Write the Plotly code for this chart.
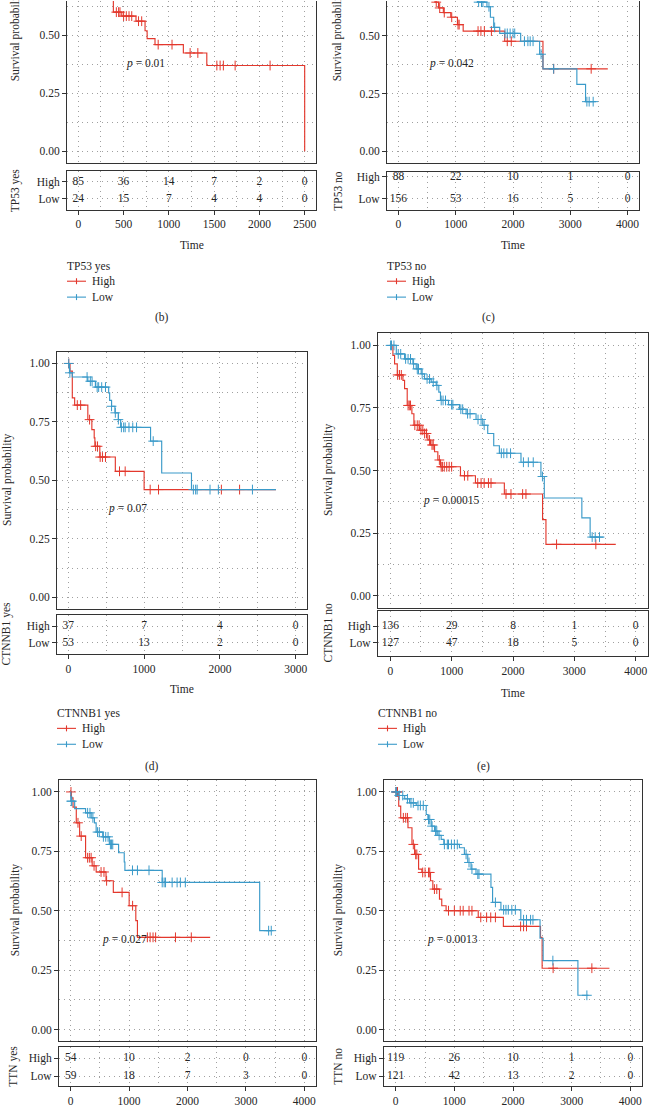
import plotly.graph_objects as go

W, H = 650, 1107
RED = "#E3382D"
BLUE = "#3A9AC9"
FONT = "Liberation Serif"
INK = "#262626"
GRID = "#A0A0A0"
DOT = "1px,4px"
FS = 11.5

# ---------------- data ----------------
# (b) TP53 yes
b_high_t = [0, 40, 95, 150, 210, 265, 320, 360, 387, 480, 637, 737, 760, 847, 1160, 1419, 2500]
b_high_s = [1, 0.96, 0.92, 0.88, 0.83, 0.78, 0.73, 0.68, 0.60, 0.583, 0.561, 0.52, 0.486, 0.46, 0.424, 0.37, 0.0]
b_high_c = [420, 445, 460, 500, 530, 560, 590, 665, 700, 882, 1035, 1235, 1320, 1530, 1566, 1602, 1732, 2118]
b_low_t = [0, 120, 300, 520, 900, 1300, 2450]
b_low_s = [1, 0.958, 0.913, 0.864, 0.81, 0.75, 0.75]
b_low_c = [200, 450, 700, 1100, 1600, 2000, 2450]
b_times = [0, 500, 1000, 1500, 2000, 2500]
b_risk_high = [85, 36, 14, 7, 2, 0]
b_risk_low = [24, 15, 7, 4, 4, 0]

# (c) TP53 no
c_high_t = [0, 50, 110, 180, 260, 340, 420, 500, 580, 638, 700, 784, 914, 1030, 1130, 1855, 2523, 3655]
c_high_s = [1, 0.97, 0.94, 0.9, 0.86, 0.82, 0.78, 0.74, 0.69, 0.645, 0.62, 0.60, 0.58, 0.548, 0.52, 0.476, 0.357, 0.357]
c_high_c = [660, 720, 800, 930, 1040, 1060, 1390, 1440, 1500, 1623, 1900, 1970, 2710, 3365]
c_low_t = [0, 100, 250, 400, 600, 800, 1000, 1200, 1380, 1545, 1605, 1663, 1768, 2134, 2465, 2523, 3115, 3267, 3450]
c_low_s = [1, 0.98, 0.95, 0.92, 0.88, 0.84, 0.79, 0.74, 0.645, 0.625, 0.58, 0.536, 0.51, 0.476, 0.42, 0.357, 0.29, 0.215, 0.215]
c_low_c = [1400, 1450, 1475, 1580, 1680, 1860, 1900, 1950, 2000, 2030, 2200, 2260, 2300, 2350, 2490, 2710, 3290, 3330, 3400]
c_times = [0, 1000, 2000, 3000, 4000]
c_risk_high = [88, 22, 10, 1, 0]
c_risk_low = [156, 53, 16, 5, 0]

# (d) CTNNB1 yes
d_high_t = [0, 22, 52, 83, 257, 310, 341, 350, 415, 620, 1000, 2740]
d_high_s = [1, 0.967, 0.853, 0.822, 0.76, 0.717, 0.682, 0.646, 0.60, 0.539, 0.461, 0.461]
d_high_c = [5, 118, 162, 280, 360, 385, 420, 450, 490, 675, 750, 1080, 1190, 2020, 2260]
d_low_t = [0, 15, 52, 257, 357, 532, 545, 570, 615, 660, 690, 1085, 1232, 1625, 2740]
d_low_s = [1, 0.96, 0.942, 0.924, 0.899, 0.874, 0.842, 0.817, 0.789, 0.76, 0.727, 0.668, 0.532, 0.461, 0.461]
d_low_c = [5, 20, 247, 290, 313, 380, 400, 440, 490, 570, 620, 660, 700, 730, 750, 800, 850, 900,
           1120, 1650, 1680, 1700, 1870, 1980, 2430]
d_times = [0, 1000, 2000, 3000]
d_risk_high = [37, 7, 4, 0]
d_risk_low = [53, 13, 2, 0]

# (e) CTNNB1 no
e_high_t = [0, 43, 70, 114, 206, 233, 276, 352, 385, 477, 558, 612, 656, 721, 775, 818, 1144, 1388, 1859, 2482, 2537, 3675]
e_high_s = [1, 0.96, 0.926, 0.882, 0.86, 0.827, 0.76, 0.727, 0.681, 0.661, 0.648, 0.622, 0.602, 0.575, 0.542, 0.515,
            0.479, 0.45, 0.406, 0.304, 0.205, 0.205]
e_high_c = [120, 150, 180, 290, 310, 330, 400, 440, 470, 500, 530, 560, 590, 640, 680, 700, 800, 830, 850, 880, 920,
            960, 1000, 1209, 1263, 1425, 1480, 1530, 1600, 1642, 1886, 1967, 2157, 2211, 2710, 3350]
e_low_t = [0, 98, 233, 369, 423, 504, 558, 667, 748, 791, 818, 949, 1127, 1236, 1398, 1507, 1588, 1686, 1778, 2130,
           2455, 2510, 3122, 3257, 3474]
e_low_s = [1, 0.966, 0.946, 0.926, 0.906, 0.886, 0.866, 0.853, 0.84, 0.813, 0.78, 0.763, 0.745, 0.727, 0.704, 0.681,
           0.648, 0.599, 0.569, 0.533, 0.476, 0.39, 0.311, 0.234, 0.234]
e_low_c = [5, 20, 60, 130, 170, 250, 290, 330, 380, 440, 460, 520, 600, 640, 700, 760, 830, 860, 900, 1000, 1020,
           1150, 1180, 1260, 1300, 1430, 1480, 1530, 1810, 1850, 1900, 1960, 2170, 2250, 2330, 2480, 3290, 3340, 3410]
e_times = [0, 1000, 2000, 3000, 4000]
e_risk_high = [136, 29, 8, 1, 0]
e_risk_low = [127, 47, 18, 5, 0]

# (f) TTN yes
f_high_t = [0, 11, 40, 96, 153, 255, 368, 436, 605, 730, 1001, 1115, 1143, 2388]
f_high_s = [1, 0.975, 0.936, 0.87, 0.814, 0.723, 0.689, 0.663, 0.626, 0.577, 0.521, 0.458, 0.388, 0.388]
f_high_c = [5, 125, 180, 290, 320, 350, 400, 520, 570, 615, 880, 1060, 1313, 1360, 1410, 1454, 1794, 2065]
f_low_t = [0, 3, 68, 255, 351, 407, 436, 549, 662, 820, 917, 928, 1567, 3236, 3434]
f_low_s = [1, 0.961, 0.93, 0.912, 0.891, 0.87, 0.831, 0.811, 0.779, 0.744, 0.705, 0.67, 0.619, 0.416, 0.416]
f_low_c = [10, 20, 290, 330, 380, 460, 490, 560, 600, 640, 680, 700, 720, 1058, 1143, 1341, 1567, 1600, 1624,
           1737, 1822, 1878, 1963, 3389, 3434]
f_times = [0, 1000, 2000, 3000, 4000]
f_risk_high = [54, 10, 2, 0, 0]
f_risk_low = [59, 18, 7, 3, 0]

# (g) TTN no
g_high_t = [0, 51, 85, 209, 277, 322, 390, 446, 593, 633, 746, 785, 859, 1407, 1836, 2469, 2497, 3644]
g_high_s = [1, 0.94, 0.891, 0.849, 0.779, 0.737, 0.675, 0.661, 0.626, 0.591, 0.549, 0.521, 0.5, 0.472, 0.434,
            0.388, 0.258, 0.258]
g_high_c = [5, 20, 30, 130, 170, 200, 300, 340, 360, 460, 500, 560, 580, 660, 700, 900, 1000, 1100, 1150, 1250,
            1300, 1450, 1550, 1620, 1700, 2130, 2180, 2230, 2684, 3345]
g_low_t = [0, 40, 153, 237, 350, 520, 549, 605, 662, 718, 775, 820, 1086, 1171, 1228, 1284, 1369, 1624, 1652, 1794,
           2133, 2461, 2514, 3107, 3288]
g_low_s = [1, 0.985, 0.971, 0.954, 0.943, 0.905, 0.884, 0.856, 0.835, 0.817, 0.8, 0.779, 0.765, 0.737, 0.703,
           0.675, 0.654, 0.598, 0.535, 0.504, 0.462, 0.384, 0.29, 0.144, 0.144]
g_low_c = [3, 10, 60, 120, 200, 260, 300, 380, 420, 470, 560, 580, 620, 680, 700, 740, 830, 880, 900, 950, 1000,
           1050, 1200, 1250, 1300, 1400, 1420, 1700, 1840, 1880, 1920, 1980, 2040, 2180, 2230, 2300, 2340, 2680, 3260]
g_times = [0, 1000, 2000, 3000, 4000]
g_risk_high = [119, 26, 10, 1, 0]
g_risk_low = [121, 42, 13, 2, 0]

p_values = ["0.01", "0.042", "0.07", "0.00015", "0.027", "0.0013"]
groups = ["TP53 yes", "TP53 no", "CTNNB1 yes", "CTNNB1 no", "TTN yes", "TTN no"]
labels = ["(b)", "(c)", "(d)", "(e)", "(f)", "(g)"]

# ---------------- layout geometry (pixels) ----------------
panels = [
    dict(high=(b_high_t, b_high_s, b_high_c), low=(b_low_t, b_low_s, b_low_c),
         times=b_times, rh=b_risk_high, rl=b_risk_low,
         box=(67, 316, 0, 163), yr=[-0.05, 0.648], cut=True, risk=(171, 210), rows=(182, 199),
         xr=[-125, 2625], dt=500, yt=(15, 34.5), rt=15, time_y=246, leg=(67, 267), lab=(162, 319)),
    dict(high=(c_high_t, c_high_s, c_high_c), low=(c_low_t, c_low_s, c_low_c),
         times=c_times, rh=c_risk_high, rl=c_risk_low,
         box=(387, 639, 0, 163), yr=[-0.05, 0.65], cut=True, risk=(172, 210), rows=(177, 199),
         xr=[-200, 4200], dt=1000, yt=(337, 34.5), rt=338, time_y=246, leg=(387, 267), lab=(488, 319)),
    dict(high=(d_high_t, d_high_s, d_high_c), low=(d_low_t, d_low_s, d_low_c),
         times=d_times, rh=d_risk_high, rl=d_risk_low,
         box=(57, 307, 353, 612), yr=[-0.05, 1.05], cut=False, risk=(618, 657), rows=(629, 646),
         xr=[-150, 3150], dt=1000, yt=(8, 482), rt=6, time_y=692, leg=(57, 717), lab=(152, 770)),
    dict(high=(e_high_t, e_high_s, e_high_c), low=(e_low_t, e_low_s, e_low_c),
         times=e_times, rh=e_risk_high, rl=e_risk_low,
         box=(378, 648, 334, 611), yr=[-0.05, 1.05], cut=False, risk=(614, 659), rows=(629, 646),
         xr=[-200, 4200], dt=1000, yt=(328, 472), rt=328, time_y=696, leg=(378, 717), lab=(483, 770)),
    dict(high=(f_high_t, f_high_s, f_high_c), low=(f_low_t, f_low_s, f_low_c),
         times=f_times, rh=f_risk_high, rl=f_risk_low,
         box=(59, 316, 784, 1047), yr=[-0.05, 1.05], cut=False, risk=(1053, 1092), rows=(1064, 1082),
         xr=[-200, 4200], dt=1000, yt=(15, 915), rt=14, time_y=None, leg=None, lab=None),
    dict(high=(g_high_t, g_high_s, g_high_c), low=(g_low_t, g_low_s, g_low_c),
         times=g_times, rh=g_risk_high, rl=g_risk_low,
         box=(384, 642, 784, 1047), yr=[-0.05, 1.05], cut=False, risk=(1053, 1092), rows=(1064, 1082),
         xr=[-200, 4200], dt=1000, yt=(338, 915), rt=338, time_y=None, leg=None, lab=None),
]


def fx(x):
    return x / W


def fy(y):
    return 1 - y / H


def surv_at(t, s, c):
    v = s[0]
    for ti, si in zip(t, s):
        if ti <= c:
            v = si
        else:
            break
    return v


def note(x, y, text, xanchor="center", angle=0):
    # text placed in pixel coordinates of the page
    return dict(x=fx(x), y=fy(y), xref="paper", yref="paper", xanchor=xanchor, yanchor="middle",
                text=text, textangle=angle, showarrow=False, font=dict(family=FONT, size=FS, color=INK))


fig = go.Figure()
layout = {}
annotations = []
shapes = []
tickfont = dict(family=FONT, size=FS, color=INK)
grid = dict(showgrid=True, gridcolor=GRID, griddash=DOT, gridwidth=1)
frame = dict(showline=True, linecolor="#333333", linewidth=1, zeroline=False)

for i, p in enumerate(panels):
    m, r = 2 * i + 1, 2 * i + 2
    xm, ym = f"x{m}", f"y{m}"
    xr_, yr_ = f"x{r}", f"y{r}"
    x0, x1, y0, y1 = p["box"]

    # main KM panel axes
    layout[f"xaxis{m}"] = dict(
        domain=[fx(x0), fx(x1)], range=p["xr"], anchor=ym, tick0=0, dtick=p["dt"],
        showticklabels=False, ticks="", minor=dict(dtick=p["dt"] / 2, tick0=0, **grid),
        mirror=not p["cut"], **grid, **frame)
    layout[f"yaxis{m}"] = dict(
        domain=[fy(y1), fy(y0)], range=p["yr"], anchor=xm, tick0=0, dtick=0.25, tickformat=".2f",
        ticks="outside", ticklen=4, tickcolor="#333333", tickfont=tickfont,
        minor=dict(dtick=0.125, tick0=0, **grid), mirror=True, **grid, **frame)

    # risk table axes
    ry0, ry1 = p["risk"]
    hi, lo = p["rows"]
    unit = lo - hi
    rrange = [-(ry1 - lo) / unit, 1 + (hi - ry0) / unit]
    layout[f"xaxis{r}"] = dict(
        domain=[fx(x0), fx(x1)], range=p["xr"], anchor=yr_, tick0=0, dtick=p["dt"],
        ticks="outside", ticklen=4, tickcolor="#333333", tickfont=tickfont,
        minor=dict(dtick=p["dt"] / 2, tick0=0, **grid), mirror=True, **grid, **frame)
    layout[f"yaxis{r}"] = dict(
        domain=[fy(ry1), fy(ry0)], range=rrange, anchor=xr_, tickvals=[0, 1], ticktext=["Low", "High"],
        ticks="outside", ticklen=4, tickcolor="#333333", tickfont=tickfont, mirror=True, **grid, **frame)

    # curves and censor marks
    for (t, s, c), col in ((p["high"], RED), (p["low"], BLUE)):
        fig.add_trace(go.Scatter(x=t, y=s, mode="lines", line=dict(color=col, width=1.15, shape="hv"),
                                 xaxis=xm, yaxis=ym, showlegend=False, hoverinfo="skip"))
        fig.add_trace(go.Scatter(x=c, y=[surv_at(t, s, v) for v in c], mode="markers",
                                 marker=dict(symbol="cross-thin", size=7, line=dict(color=col, width=1)),
                                 xaxis=xm, yaxis=ym, showlegend=False, hoverinfo="skip"))

    # risk numbers
    for vals, row in ((p["rh"], 1), (p["rl"], 0)):
        fig.add_trace(go.Scatter(x=p["times"], y=[row] * len(vals), mode="text",
                                 text=[str(v) for v in vals], textfont=tickfont,
                                 xaxis=xr_, yaxis=yr_, showlegend=False, hoverinfo="skip", cliponaxis=False))

    # p value
    annotations.append(dict(x=500, y=0.38, xref=xm, yref=ym, xanchor="left", yanchor="middle",
                            text=f"<i>p</i> = {p_values[i]}", showarrow=False,
                            font=dict(family=FONT, size=FS, color=INK)))

    # axis titles
    tx, ty = p["yt"]
    annotations.append(note(tx, ty, "Survival probability", angle=-90))
    annotations.append(note(p["rt"], (ry0 + ry1) / 2, groups[i], angle=-90))
    if p["time_y"] is not None:
        annotations.append(note((x0 + x1) / 2, p["time_y"], "Time"))
    if p["lab"] is not None:
        annotations.append(note(p["lab"][0], p["lab"][1], labels[i]))

    # legend
    if p["leg"] is not None:
        lx, ly = p["leg"]
        annotations.append(note(lx - 2, ly, groups[i], xanchor="left"))
        for k, (name, col) in enumerate((("High", RED), ("Low", BLUE))):
            yy = ly + 15 + 16 * k
            shapes.append(dict(type="line", xref="paper", yref="paper", x0=fx(lx), x1=fx(lx + 19),
                               y0=fy(yy), y1=fy(yy), line=dict(color=col, width=1.1)))
            shapes.append(dict(type="line", xref="paper", yref="paper", x0=fx(lx + 9.5), x1=fx(lx + 9.5),
                               y0=fy(yy - 3), y1=fy(yy + 3), line=dict(color=col, width=1.1)))
            annotations.append(note(lx + 23, yy, name, xanchor="left"))

fig.update_layout(
    width=W, height=H, margin=dict(l=0, r=0, t=0, b=0),
    paper_bgcolor="white", plot_bgcolor="white",
    font=dict(family=FONT, size=FS, color=INK),
    annotations=annotations, shapes=shapes, showlegend=False,
    **layout)

fig.write_html("out.html", config={"displayModeBar": False},
               post_script="document.body.style.margin='0px';")
